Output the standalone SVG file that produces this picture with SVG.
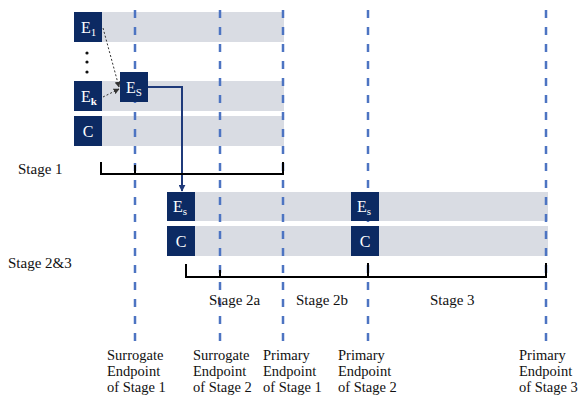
<svg xmlns="http://www.w3.org/2000/svg" width="584" height="408" viewBox="0 0 584 408">
<style>
.bar{fill:#d9dce3}
.box{fill:#0c2a63}
.bt{fill:#fff;font-family:"Liberation Serif",serif;font-size:16px}
.sub{font-size:11px}
.vd{stroke:#4d74c2;stroke-width:2.5;stroke-dasharray:8 9;fill:none}
.br{stroke:#000;stroke-width:2;fill:none}
.lb{font-family:"Liberation Serif",serif;font-size:15px;fill:#111}
.ep{font-family:"Liberation Serif",serif;font-size:14.5px;fill:#111}
</style>
<defs>
<marker id="ah" viewBox="0 0 10 10" refX="9" refY="5" markerWidth="7" markerHeight="7" orient="auto" markerUnits="userSpaceOnUse"><path d="M0,0 L10,5 L0,10 z" fill="#1f3a7a"/></marker>
<marker id="ahs" viewBox="0 0 10 10" refX="9" refY="5" markerWidth="6" markerHeight="6" orient="auto" markerUnits="userSpaceOnUse"><path d="M0,0 L10,5 L0,10 z" fill="#333"/></marker>
</defs>
<g id="bars">
<rect class="bar" x="102" y="12" width="182" height="30"/>
<rect class="bar" x="102" y="81" width="182" height="30"/>
<rect class="bar" x="102" y="116" width="182" height="30"/>
<rect class="bar" x="195" y="192" width="353" height="29"/>
<rect class="bar" x="195" y="226" width="353" height="30"/>
</g>
<g id="guides">
<line class="vd" x1="135" y1="10" x2="135" y2="342"/>
<line class="vd" x1="220" y1="10" x2="220" y2="342"/>
<line class="vd" x1="283" y1="10" x2="283" y2="342"/>
<line class="vd" x1="368" y1="10" x2="368" y2="342"/>
<line class="vd" x1="546" y1="10" x2="546" y2="342"/>
</g>
<g id="node-E1"><rect class="box" x="74" y="12" width="28" height="30"/><text class="bt" x="81" y="33">E<tspan class="sub" dy="3">1</tspan></text></g>
<g id="dots" fill="#111"><circle cx="87" cy="53" r="1.6"/><circle cx="87" cy="62" r="1.6"/><circle cx="87" cy="72" r="1.6"/></g>
<g id="node-Ek"><rect class="box" x="74" y="81" width="28" height="30"/><text class="bt" x="81" y="102">E<tspan class="sub" dy="3" font-weight="bold">k</tspan></text></g>
<g id="node-C1"><rect class="box" x="74" y="116" width="28" height="30"/><text class="bt" x="88" y="137" text-anchor="middle">C</text></g>
<g id="node-Es1"><rect class="box" x="120" y="72" width="28" height="30"/><text class="bt" x="126" y="93">E<tspan class="sub" dy="3">S</tspan></text></g>
<g id="node-Es2"><rect class="box" x="167" y="192" width="28" height="29"/><text class="bt" x="173" y="212">E<tspan class="sub" dy="3">s</tspan></text></g>
<g id="node-C2"><rect class="box" x="167" y="226" width="28" height="30"/><text class="bt" x="181" y="247" text-anchor="middle">C</text></g>
<g id="node-Es3"><rect class="box" x="351" y="192" width="28" height="29"/><text class="bt" x="357" y="212">E<tspan class="sub" dy="3">s</tspan></text></g>
<g id="node-C3"><rect class="box" x="351" y="226" width="28" height="30"/><text class="bt" x="365" y="247" text-anchor="middle">C</text></g>
<g id="connectors">
<line x1="103" y1="28" x2="119" y2="87" stroke="#333" stroke-width="1" stroke-dasharray="2 2" marker-end="url(#ahs)"/>
<line x1="103" y1="97" x2="119" y2="89" stroke="#333" stroke-width="1" stroke-dasharray="2 2" marker-end="url(#ahs)"/>
<path d="M148,87 H182 V191" stroke="#1f3a7a" stroke-width="2" fill="none" marker-end="url(#ah)"/>
</g>
<g id="brackets">
<path class="br" d="M101,162 V174 H283 V162"/>
<line class="br" x1="135" y1="165" x2="135" y2="174"/>
<path class="br" d="M186,264 V277 H546 V263"/>
<line class="br" x1="368" y1="263" x2="368" y2="277"/>
<line class="br" x1="220" y1="270" x2="220" y2="277"/>
</g>
<g id="labels">
<text class="lb" x="18" y="174">Stage 1</text>
<text class="lb" x="8" y="268">Stage 2&amp;3</text>
<text class="lb" x="209" y="305">Stage 2a</text>
<text class="lb" x="296" y="305">Stage 2b</text>
<text class="lb" x="430" y="305">Stage 3</text>
<text class="ep" x="107" y="360">Surrogate<tspan x="107" dy="16">Endpoint</tspan><tspan x="107" dy="16">of Stage 1</tspan></text>
<text class="ep" x="193" y="360">Surrogate<tspan x="193" dy="16">Endpoint</tspan><tspan x="193" dy="16">of Stage 2</tspan></text>
<text class="ep" x="263" y="360">Primary<tspan x="263" dy="16">Endpoint</tspan><tspan x="263" dy="16">of Stage 1</tspan></text>
<text class="ep" x="338" y="360">Primary<tspan x="338" dy="16">Endpoint</tspan><tspan x="338" dy="16">of Stage 2</tspan></text>
<text class="ep" x="519" y="360">Primary<tspan x="519" dy="16">Endpoint</tspan><tspan x="519" dy="16">of Stage 3</tspan></text>
</g>
</svg>
